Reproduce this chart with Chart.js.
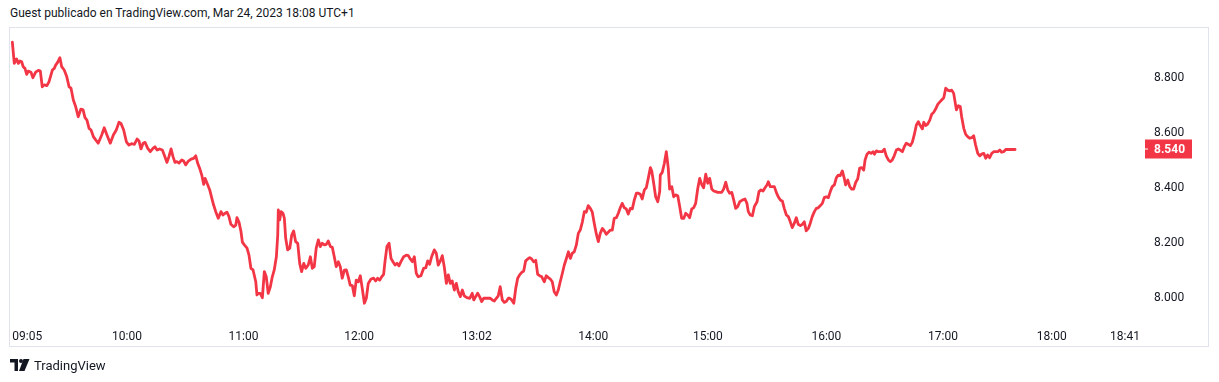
<!DOCTYPE html>
<html>
<head>
<meta charset="utf-8">
<script src="https://cdn.jsdelivr.net/npm/chart.js@4.4.0/dist/chart.umd.min.js"></script>
<style>
  html, body { margin:0; padding:0; background:#ffffff; }
  body { width:1219px; height:382px; position:relative; overflow:hidden; font-family:Roboto, "Noto Sans", sans-serif; color:#131722; }
  #title { position:absolute; left:10px; top:5px; font-size:12px; line-height:16px; white-space:nowrap; color:#131722; }
  #frame { position:absolute; left:9px; top:27px; width:1200px; height:320px; box-sizing:border-box; border:1px solid #e0e3eb; }
  #c { position:absolute; left:0; top:0; }
  #logo { position:absolute; left:10px; top:357px; height:16px; display:flex; align-items:center; }
  #logo span { font-size:13px; margin-left:4px; color:#131722; }
</style>
</head>
<body>
<div id="title">Guest publicado en TradingView.com, Mar 24, 2023 18:08 UTC+1</div>
<div id="frame"></div>
<canvas id="c" width="1219" height="382"></canvas>
<div id="logo">
  <svg width="20" height="12" viewBox="0 0 20 12">
    <path d="M0 0H8V12H4.5V3.5H0Z" fill="#131722"/>
    <circle cx="11" cy="2" r="2" fill="#131722"/>
    <path d="M13.5 0H19.5L14.5 12H9Z" fill="#131722"/>
  </svg>
  <span>TradingView</span>
</div>
<script>
// minutes since 09:00 (approximate)
const times = [
1.0,2.0,3.2,4.1,4.9,5.8,6.6,7.5,8.4,9.2,10.6,11.6,13.0,14.4,15.4,16.4,17.4,18.8,19.9,21.6,
22.6,23.3,24.3,25.5,26.4,27.7,29.0,30.2,31.2,32.4,33.6,34.9,36.3,37.4,38.4,39.4,40.5,41.5,42.7,43.9,
45.2,47.0,48.3,49.7,51.4,53.0,54.5,55.9,56.9,58.3,59.7,61.0,62.4,63.8,65.2,66.2,67.2,68.3,69.3,70.7,
72.0,73.4,74.4,75.5,76.8,78.2,79.2,80.6,81.6,82.7,83.7,84.7,85.7,86.8,88.2,89.2,90.2,91.6,93.0,94.3,
95.4,96.4,97.4,98.5,99.5,100.2,101.6,102.6,103.6,104.6,105.7,107.0,108.4,109.4,110.5,111.5,112.5,113.5,114.9,116.0,
116.6,117.7,118.7,119.4,120.4,121.8,122.8,123.8,124.9,126.3,126.9,
127.6,128.6,129.7,130.7,131.7,132.7,133.8,134.8,135.8,136.9,137.6,137.9,138.6,139.3,140.3,141.0,141.7,142.7,143.8,144.8,
145.8,146.8,147.9,148.9,149.9,151.0,152.0,153.3,154.4,155.4,156.4,157.4,158.5,159.5,160.5,161.6,162.6,163.6,164.7,165.7,
166.7,167.7,168.8,169.8,170.8,171.9,172.9,173.9,174.9,176.0,177.0,178.0,179.1,180.1,181.1,182.2,183.2,184.2,185.6,187.0,
188.0,189.0,190.1,191.1,192.1,192.8,193.8,194.9,195.9,196.9,198.0,199.0,200.0,201.0,202.4,203.8,204.8,205.8,206.9,207.9,
208.9,209.9,211.3,212.7,213.8,214.8,215.8,216.8,218.2,219.2,220.2,221.3,222.3,223.3,224.4,225.4,226.4,227.4,228.5,229.5,
230.5,231.6,232.6,233.6,235.0,236.4,237.7,238.5,239.5,240.5,241.5,242.6,243.6,244.6,246.0,247.0,248.0,249.1,250.1,251.1,
252.1,253.2,254.2,255.2,256.3,
257.0,258.0,259.1,260.1,261.1,262.1,263.2,264.2,265.2,266.3,267.3,268.3,269.3,270.4,271.4,272.4,273.5,274.8,275.8,276.9,
277.9,278.9,279.9,281.0,282.0,283.0,284.1,285.1,286.1,287.2,288.2,289.2,290.2,291.3,292.3,293.3,294.4,295.4,296.4,297.4,
298.5,299.5,300.5,301.6,302.6,303.6,304.7,305.7,306.7,307.7,308.8,309.8,310.8,311.9,312.9,313.9,314.9,316.0,317.0,318.0,
319.1,320.1,321.1,322.2,323.2,324.2,325.2,326.3,327.3,328.3,329.4,330.1,331.1,332.1,333.2,334.2,334.5,335.5,336.6,337.6,
338.6,339.3,340.4,341.4,342.4,343.5,344.5,345.5,346.6,347.6,348.6,349.6,350.7,351.7,352.7,353.8,354.8,355.8,356.8,357.9,
358.9,359.9,361.0,362.0,363.0,364.0,365.1,366.1,367.1,368.2,369.2,370.2,371.3,372.3,373.3,374.3,375.4,376.7,378.1,379.1,
379.8,380.8,381.9,382.9,
384.3,385.3,386.3,387.4,388.4,389.4,390.1,391.1,392.1,393.2,394.2,395.2,396.3,397.3,398.3,399.4,400.4,401.4,402.4,403.5,
404.5,405.5,406.6,407.6,408.6,409.6,410.7,411.7,412.7,413.8,414.8,415.8,416.9,417.9,418.9,419.9,421.0,422.0,423.0,424.1,
425.1,426.1,427.1,428.2,429.2,429.9,431.0,432.0,433.0,434.0,435.1,436.1,437.1,438.2,439.2,439.9,440.9,441.9,443.0,444.0,
444.7,445.7,446.7,447.7,448.8,449.8,450.8,451.9,452.9,453.9,454.9,456.0,457.0,458.0,459.1,460.1,461.1,462.1,463.2,464.2,
465.2,466.3,467.3,468.3,469.4,470.1,471.1,472.1,473.2,474.2,475.2,476.2,477.3,478.3,479.3,480.4,481.4,482.4,483.5,484.5,
485.5,486.2,486.9,487.9,488.9,489.6,490.7,491.7,492.7,493.7,494.8,495.8,496.8,497.9,498.9,499.9,501.0,502.0,503.0,504.0,
505.1,506.1,507.1,508.2,509.2,510.2,511.2,512.3,513.6,515.4,517.1
];
const prices = [
8.930,8.853,8.869,8.853,8.862,8.859,8.841,8.835,8.813,8.825,8.821,8.801,8.821,8.828,8.825,8.768,8.775,8.772,8.787,8.829,
8.835,8.847,8.857,8.874,8.841,8.829,8.805,8.768,8.763,8.720,8.696,8.659,8.687,8.684,8.656,8.647,8.617,8.611,8.587,8.575,
8.563,8.593,8.619,8.593,8.563,8.593,8.611,8.639,8.635,8.611,8.568,8.556,8.561,8.559,8.578,8.571,8.542,8.563,8.566,8.544,
8.532,8.544,8.550,8.538,8.542,8.538,8.520,8.493,8.514,8.542,8.514,8.493,8.496,8.491,8.502,8.498,8.484,8.498,8.505,8.508,
8.517,8.490,8.472,8.447,8.413,8.435,8.411,8.393,8.365,8.338,8.314,8.290,8.314,8.302,8.308,8.312,8.296,8.268,8.259,8.265,
8.292,8.275,8.241,8.203,8.193,8.181,8.156,8.108,8.102,8.059,8.011,
8.017,8.017,8.001,8.096,8.077,8.017,8.041,8.077,8.102,8.150,8.229,8.320,8.284,8.314,8.308,8.290,8.217,8.175,8.181,8.229,
8.244,8.205,8.199,8.126,8.096,8.126,8.108,8.120,8.150,8.108,8.114,8.181,8.211,8.187,8.199,8.193,8.195,8.207,8.187,8.184,
8.150,8.114,8.132,8.114,8.072,8.101,8.102,8.077,8.047,8.045,8.008,8.065,8.059,8.081,8.035,7.981,7.999,8.053,8.069,8.072,
8.062,8.072,8.065,8.077,8.086,8.132,8.187,8.199,8.144,8.132,8.120,8.126,8.117,8.132,8.150,8.156,8.154,8.142,8.132,8.150,
8.090,8.077,8.081,8.108,8.110,8.135,8.123,8.150,8.175,8.163,8.120,8.135,8.154,8.114,8.053,8.084,8.053,8.062,8.029,8.053,
8.023,8.005,8.029,8.008,8.001,7.999,8.017,7.993,8.005,8.017,8.005,7.987,7.999,7.999,7.999,7.999,7.993,7.989,7.999,8.008,
8.041,7.993,7.984,7.987,7.999,
7.999,7.993,7.981,8.035,8.072,8.084,8.093,8.098,8.135,8.142,8.147,8.142,8.132,8.137,8.086,8.081,8.077,8.059,8.081,8.074,
8.069,8.059,8.023,8.011,8.029,8.059,8.090,8.120,8.142,8.168,8.144,8.163,8.168,8.193,8.235,8.247,8.277,8.314,8.312,8.336,
8.326,8.312,8.272,8.232,8.205,8.235,8.253,8.244,8.232,8.239,8.247,8.247,8.290,8.292,8.308,8.328,8.344,8.328,8.324,8.305,
8.326,8.324,8.356,8.381,8.381,8.377,8.360,8.393,8.401,8.435,8.474,8.462,8.417,8.368,8.350,8.387,8.447,8.457,8.490,8.532,
8.472,8.396,8.405,8.368,8.375,8.372,8.332,8.290,8.290,8.308,8.302,8.292,8.324,8.328,8.344,8.399,8.435,8.413,8.401,8.450,
8.417,8.435,8.396,8.389,8.387,8.384,8.384,8.384,8.396,8.421,8.393,8.381,8.384,8.356,8.326,8.332,8.350,8.356,8.360,8.344,
8.314,8.302,8.299,8.332,
8.350,8.387,8.393,8.389,8.401,8.411,8.423,8.405,8.405,8.405,8.384,8.368,8.356,8.353,8.326,8.302,8.296,8.277,8.256,8.272,
8.292,8.268,8.263,8.268,8.277,8.244,8.253,8.272,8.296,8.314,8.326,8.328,8.336,8.344,8.365,8.368,8.365,8.387,8.405,8.411,
8.437,8.447,8.445,8.462,8.435,8.411,8.429,8.405,8.396,8.396,8.421,8.433,8.472,8.474,8.465,8.502,8.523,8.530,8.526,8.532,
8.523,8.535,8.532,8.532,8.532,8.541,8.517,8.502,8.496,8.502,8.517,8.538,8.542,8.538,8.532,8.550,8.563,8.559,8.554,8.566,
8.593,8.629,8.641,8.627,8.615,8.639,8.627,8.632,8.647,8.668,8.675,8.687,8.704,8.712,8.720,8.728,8.763,8.756,8.753,8.756,
8.744,8.714,8.684,8.699,8.696,8.659,8.617,8.595,8.587,8.581,8.583,8.590,8.556,8.526,8.517,8.523,8.526,8.508,8.520,8.510,
8.526,8.532,8.532,8.532,8.538,8.530,8.532,8.540,8.540,8.540,8.540
];
const priceTicks = [8.0, 8.2, 8.4, 8.6, 8.8];
const timeTickPos = [1, 60, 120, 179.5, 240, 300, 359, 420, 480, 536, 581.4];
const timeTickLabels = ['09:05','10:00','11:00','12:00','13:02','14:00','15:00','16:00','17:00','18:00','18:41'];
const lastPrice = prices[prices.length - 1];

const FONT = 'Roboto, "Noto Sans", sans-serif';
const TEXT = '#131722';
const RED = '#f23645';

const lastLabel = {
  id: 'lastLabel',
  afterDraw(chart) {
    const ys = chart.scales.y;
    const y = Math.round(ys.getPixelForValue(lastPrice));
    const c = chart.ctx;
    c.save();
    c.fillStyle = RED;
    c.fillRect(ys.left + 5, y - 9.5, 47, 19);
    c.fillStyle = '#ffffff';
    c.fillRect(ys.left + 5, y - 0.5, 3, 1);
    c.font = 'bold 12px ' + FONT;
    c.textAlign = 'left';
    c.textBaseline = 'middle';
    c.fillText(lastPrice.toFixed(3), ys.left + 14, y + 0.5);
    c.restore();
  }
};

new Chart(document.getElementById('c').getContext('2d'), {
  type: 'line',
  data: {
    datasets: [{
      data: times.map((t, i) => ({ x: t, y: prices[i] })),
      borderColor: RED,
      borderWidth: 2.8,
      pointRadius: 0,
      tension: 0,
      fill: false,
      borderJoinStyle: 'round',
      borderCapStyle: 'round'
    }]
  },
  options: {
    responsive: false,
    animation: false,
    events: [],
    layout: { padding: { left: 10, top: 28, right: 11, bottom: 36 } },
    plugins: { legend: { display: false }, tooltip: { enabled: false } },
    scales: {
      x: {
        type: 'linear', position: 'bottom', min: -0.2, max: 581.4,
        afterBuildTicks: s => { s.ticks = timeTickPos.map(v => ({ value: v })); },
        afterFit: s => { s.height = 26; },
        grid: { display: false, drawTicks: false },
        border: { display: false },
        ticks: {
          autoSkip: false, maxRotation: 0, minRotation: 0, align: 'inner', padding: 10,
          color: TEXT, font: { family: FONT, size: 12 },
          callback: (v, i) => timeTickLabels[i]
        }
      },
      y: {
        position: 'right', min: 7.92, max: 8.9818,
        afterBuildTicks: s => { s.ticks = priceTicks.map(v => ({ value: v })); },
        afterFit: s => { s.width = 68; },
        grid: { display: false, drawTicks: false },
        border: { display: false },
        ticks: {
          padding: 14, color: TEXT, font: { family: FONT, size: 12 },
          callback: v => Number(v).toFixed(3)
        }
      }
    }
  },
  plugins: [lastLabel]
});
</script>
</body>
</html>
